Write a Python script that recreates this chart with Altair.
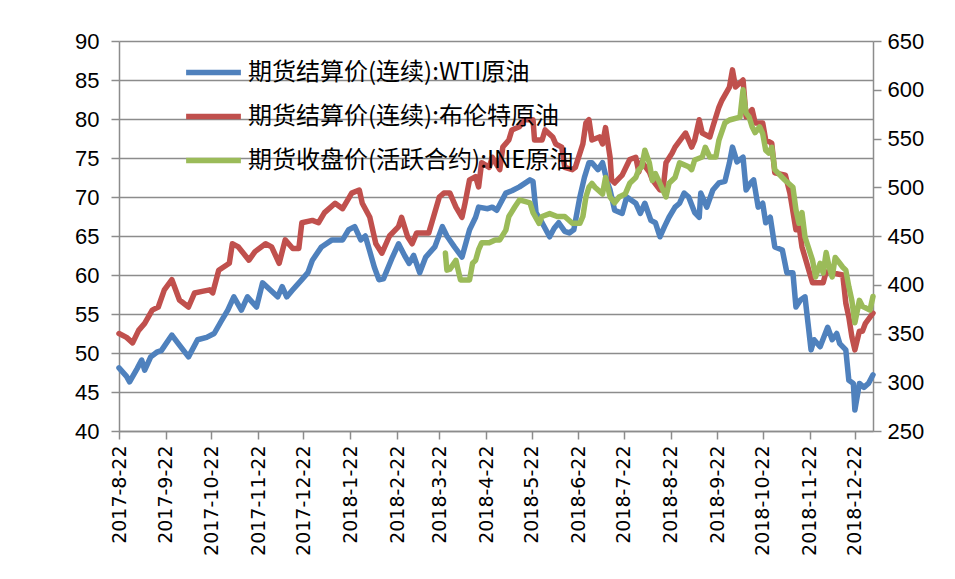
import altair as alt
import pandas as pd

# ---- data ----
WTI_NAME = "期货结算价(连续):WTI原油"
BRENT_NAME = "期货结算价(连续):布伦特原油"
INE_NAME = "期货收盘价(活跃合约):INE原油"

wti_dates = [
    "2017-08-22", "2017-08-27", "2017-08-29", "2017-09-03", "2017-09-06", "2017-09-08",
    "2017-09-12", "2017-09-16", "2017-09-19", "2017-09-26", "2017-10-01", "2017-10-07",
    "2017-10-13", "2017-10-19", "2017-10-24", "2017-10-29", "2017-11-02", "2017-11-06",
    "2017-11-11", "2017-11-15", "2017-11-21", "2017-11-25", "2017-11-30", "2017-12-05",
    "2017-12-08", "2017-12-11", "2017-12-15", "2017-12-21", "2017-12-25", "2017-12-28",
    "2018-01-03", "2018-01-10", "2018-01-17", "2018-01-21", "2018-01-25", "2018-01-29",
    "2018-02-01", "2018-02-04", "2018-02-07", "2018-02-10", "2018-02-13", "2018-02-19",
    "2018-02-23", "2018-02-27", "2018-03-02", "2018-03-05", "2018-03-09", "2018-03-13",
    "2018-03-19", "2018-03-24", "2018-03-27", "2018-04-01", "2018-04-06", "2018-04-11",
    "2018-04-15", "2018-04-17", "2018-04-23", "2018-04-26", "2018-04-29", "2018-05-05",
    "2018-05-09", "2018-05-14", "2018-05-21", "2018-05-23", "2018-05-25", "2018-05-29",
    "2018-06-03", "2018-06-06", "2018-06-09", "2018-06-13", "2018-06-16", "2018-06-19",
    "2018-06-23", "2018-06-26", "2018-06-29", "2018-07-01", "2018-07-05", "2018-07-08",
    "2018-07-11", "2018-07-13", "2018-07-16", "2018-07-21", "2018-07-24", "2018-07-30",
    "2018-08-02", "2018-08-05", "2018-08-09", "2018-08-12", "2018-08-15", "2018-08-18",
    "2018-08-21", "2018-08-25", "2018-08-28", "2018-08-31", "2018-09-03", "2018-09-07",
    "2018-09-10", "2018-09-11", "2018-09-15", "2018-09-19", "2018-09-23", "2018-09-27",
    "2018-09-30", "2018-10-02", "2018-10-05", "2018-10-09", "2018-10-11", "2018-10-14",
    "2018-10-16", "2018-10-19", "2018-10-22", "2018-10-24", "2018-10-27", "2018-10-30",
    "2018-11-04", "2018-11-07", "2018-11-11", "2018-11-13", "2018-11-16", "2018-11-19",
    "2018-11-21", "2018-11-23", "2018-11-25", "2018-11-29", "2018-12-04", "2018-12-07",
    "2018-12-10", "2018-12-12", "2018-12-16", "2018-12-18", "2018-12-21", "2018-12-22",
    "2018-12-25", "2018-12-28", "2018-12-31", "2019-01-03",
]
wti_values = [
    48.1, 47.0, 46.3, 48.0, 49.1, 47.8,
    49.5, 50.1, 50.3, 52.3, 51.0, 49.5,
    51.7, 52.0, 52.5, 54.2, 55.5, 57.2,
    55.5, 57.2, 55.9, 59.0, 58.1, 57.2,
    58.5, 57.2, 58.1, 59.4, 60.3, 61.9,
    63.6, 64.5, 64.5, 65.8, 66.2, 64.5,
    65.0, 63.0, 61.0, 59.4, 59.5, 62.3,
    64.0, 62.5, 61.5, 62.5, 60.3, 62.3,
    63.6, 66.2, 65.0, 63.6, 62.3, 65.8,
    67.4, 68.7, 68.5, 68.7, 68.3, 70.5,
    70.8, 71.3, 72.2, 72.0, 68.0, 66.7,
    64.9, 66.0, 66.7, 65.6, 65.4, 65.8,
    70.0, 72.5, 74.4, 74.4, 73.5, 74.4,
    72.0, 70.9, 68.3, 67.9, 70.0, 69.2,
    67.9, 69.2, 67.0, 66.7, 64.9, 66.2,
    67.4, 68.7, 69.2, 70.5, 70.0, 68.0,
    67.4, 70.5, 68.7, 70.9, 71.8, 72.0,
    74.4, 76.4, 74.5, 75.1, 70.9, 71.8,
    72.2, 68.7, 69.2, 66.7, 67.4, 63.6,
    63.2, 60.3, 60.3, 55.9, 56.8, 57.2,
    53.8, 50.4, 51.7, 50.8, 53.3, 51.7,
    52.5, 51.2, 50.4, 46.5, 46.1, 42.7,
    46.1, 45.6, 46.1, 47.2,
]

brent_dates = [
    "2017-08-22", "2017-08-27", "2017-08-31", "2017-09-04", "2017-09-08", "2017-09-13",
    "2017-09-17", "2017-09-21", "2017-09-26", "2017-10-01", "2017-10-07", "2017-10-11",
    "2017-10-16", "2017-10-21", "2017-10-23", "2017-10-27", "2017-11-03", "2017-11-05",
    "2017-11-09", "2017-11-16", "2017-11-20", "2017-11-27", "2017-12-01", "2017-12-06",
    "2017-12-10", "2017-12-15", "2017-12-19", "2017-12-21", "2017-12-28", "2018-01-01",
    "2018-01-05", "2018-01-12", "2018-01-17", "2018-01-23", "2018-01-28", "2018-01-30",
    "2018-02-04", "2018-02-08", "2018-02-12", "2018-02-17", "2018-02-23", "2018-02-25",
    "2018-03-01", "2018-03-04", "2018-03-07", "2018-03-15", "2018-03-17", "2018-03-22",
    "2018-03-25", "2018-03-29", "2018-04-02", "2018-04-06", "2018-04-08", "2018-04-11",
    "2018-04-15", "2018-04-17", "2018-04-19", "2018-04-24", "2018-04-26", "2018-05-01",
    "2018-05-03", "2018-05-07", "2018-05-09", "2018-05-14", "2018-05-17", "2018-05-23",
    "2018-05-24", "2018-05-29", "2018-05-31", "2018-06-05", "2018-06-07", "2018-06-11",
    "2018-06-13", "2018-06-18", "2018-06-20", "2018-06-25", "2018-06-27", "2018-06-29",
    "2018-07-01", "2018-07-06", "2018-07-08", "2018-07-10", "2018-07-13", "2018-07-14",
    "2018-07-16", "2018-07-21", "2018-07-26", "2018-07-30", "2018-08-01", "2018-08-03",
    "2018-08-08", "2018-08-10", "2018-08-15", "2018-08-17", "2018-08-19", "2018-08-23",
    "2018-08-25", "2018-08-30", "2018-09-01", "2018-09-05", "2018-09-07", "2018-09-10",
    "2018-09-12", "2018-09-17", "2018-09-19", "2018-09-23", "2018-09-25", "2018-09-30",
    "2018-10-02", "2018-10-04", "2018-10-09", "2018-10-11", "2018-10-15", "2018-10-17",
    "2018-10-22", "2018-10-24", "2018-10-28", "2018-10-30", "2018-11-06", "2018-11-09",
    "2018-11-13", "2018-11-15", "2018-11-17", "2018-11-22", "2018-11-24", "2018-12-01",
    "2018-12-03", "2018-12-05", "2018-12-09", "2018-12-14", "2018-12-16", "2018-12-18",
    "2018-12-20", "2018-12-22", "2018-12-25", "2018-12-27", "2018-12-29", "2019-01-03",
]
brent_values = [
    52.5, 52.0, 51.3, 52.9, 53.8, 55.5,
    55.9, 58.1, 59.4, 56.8, 55.9, 57.7,
    57.9, 58.1, 57.7, 60.6, 61.5, 64.0,
    63.6, 61.9, 63.0, 64.0, 63.6, 61.5,
    64.5, 63.4, 63.4, 66.7, 67.0, 66.7,
    68.0, 69.2, 68.5, 70.5, 70.9, 69.2,
    67.4, 64.0, 62.8, 65.0, 66.2, 67.4,
    64.9, 64.0, 65.4, 65.4, 66.7, 70.0,
    70.5, 70.5, 68.7, 67.4, 69.2, 72.2,
    72.6, 71.3, 74.4, 73.8, 75.1, 73.5,
    76.4, 77.3, 78.6, 79.0, 79.9, 79.9,
    77.3, 77.3, 78.6, 77.7, 76.8, 76.4,
    73.8, 73.5, 73.8, 76.8, 79.5, 79.9,
    77.3, 77.7, 76.8, 78.9, 75.1, 72.2,
    71.8, 72.8, 74.8, 75.1, 73.2, 74.5,
    73.2, 72.2, 70.9, 70.9, 74.4, 75.6,
    76.4, 77.7, 78.2, 76.4, 77.3, 79.9,
    78.2, 77.7, 79.0, 81.5, 82.4, 84.1,
    86.3, 84.1, 85.0, 80.3, 81.2, 79.5,
    79.5, 77.3, 76.9, 73.1, 72.8, 70.5,
    65.8, 66.4, 63.6, 60.3, 59.0, 59.0,
    60.4, 60.4, 60.2, 60.0, 56.4, 54.6,
    52.1, 50.4, 52.8, 52.8, 53.8, 55.1,
]

ine_dates = [
    "2018-03-26", "2018-03-27", "2018-03-29", "2018-04-02", "2018-04-03", "2018-04-05",
    "2018-04-11", "2018-04-13", "2018-04-15", "2018-04-17", "2018-04-19", "2018-04-24",
    "2018-04-28", "2018-05-01", "2018-05-05", "2018-05-07", "2018-05-11", "2018-05-14",
    "2018-05-21", "2018-05-23", "2018-05-27", "2018-05-29", "2018-06-03", "2018-06-08",
    "2018-06-11", "2018-06-13", "2018-06-18", "2018-06-23", "2018-06-25", "2018-06-27",
    "2018-06-29", "2018-07-01", "2018-07-03", "2018-07-08", "2018-07-10", "2018-07-13",
    "2018-07-16", "2018-07-19", "2018-07-23", "2018-07-26", "2018-07-30", "2018-08-01",
    "2018-08-03", "2018-08-05", "2018-08-08", "2018-08-10", "2018-08-12", "2018-08-15",
    "2018-08-19", "2018-08-21", "2018-08-25", "2018-08-28", "2018-09-03", "2018-09-05",
    "2018-09-07", "2018-09-12", "2018-09-14", "2018-09-17", "2018-09-21", "2018-09-23",
    "2018-09-27", "2018-09-30", "2018-10-07", "2018-10-09", "2018-10-11", "2018-10-13",
    "2018-10-15", "2018-10-17", "2018-10-20", "2018-10-22", "2018-10-24", "2018-10-26",
    "2018-10-28", "2018-10-30", "2018-11-04", "2018-11-06", "2018-11-11", "2018-11-13",
    "2018-11-15", "2018-11-17", "2018-11-19", "2018-11-24", "2018-11-26", "2018-11-29",
    "2018-12-01", "2018-12-03", "2018-12-05", "2018-12-07", "2018-12-09", "2018-12-12",
    "2018-12-14", "2018-12-16", "2018-12-18", "2018-12-20", "2018-12-22", "2018-12-25",
    "2018-12-27", "2019-01-01", "2019-01-03",
]
ine_values = [
    432.6, 415, 416, 425, 418, 405,
    405, 422, 425, 436, 443, 443,
    446, 446, 456, 470, 480, 487,
    484, 474, 463, 470, 473, 470,
    470, 470, 463, 463, 470, 490,
    500, 504, 500, 493, 510, 490,
    484, 490, 493, 504, 510, 518,
    521, 538, 525, 507, 514, 504,
    490, 504, 510, 525, 521, 518,
    528, 531, 541, 531, 531, 548,
    566, 569, 572, 600, 576, 572,
    562, 556, 562, 555, 538, 535,
    541, 518, 510, 507, 500, 477,
    463, 474, 449, 425, 408, 422,
    412, 433, 418, 408, 428, 422,
    418, 415, 398, 384, 361, 384,
    378, 374, 388,
]

series_names = [WTI_NAME, BRENT_NAME, INE_NAME]
series_colors = ["#4F81BD", "#C0504D", "#9BBB59"]
left_ticks = [40, 45, 50, 55, 60, 65, 70, 75, 80, 85, 90]
right_ticks = [250, 300, 350, 400, 450, 500, 550, 600, 650]
x_tick_months = [(2017, 8), (2017, 9), (2017, 10), (2017, 11), (2017, 12),
                 (2018, 1), (2018, 2), (2018, 3), (2018, 4), (2018, 5), (2018, 6),
                 (2018, 7), (2018, 8), (2018, 9), (2018, 10), (2018, 11), (2018, 12)]

# ---- tables ----
left_df = pd.concat([
    pd.DataFrame({"date": pd.to_datetime(wti_dates), "value": wti_values,
                  "series": WTI_NAME, "k": 0}),
    pd.DataFrame({"date": pd.to_datetime(brent_dates), "value": brent_values,
                  "series": BRENT_NAME, "k": 1}),
], ignore_index=True)
right_df = pd.DataFrame({"date": pd.to_datetime(ine_dates), "value": ine_values,
                         "series": INE_NAME, "k": 2})

GRID = "#8C8C8C"
LW = 5.5
x_values = [alt.DateTime(year=y, month=m, date=22) for y, m in x_tick_months]

x_enc = alt.X(
    "date:T",
    scale=alt.Scale(domain=[alt.DateTime(year=2017, month=8, date=22),
                            alt.DateTime(year=2019, month=1, date=3)]),
    axis=alt.Axis(values=x_values, format="%Y-%-m-%-d", labelAngle=270,
                  title=None, grid=False, tickSize=8, labelPadding=6,
                  labelFont="DejaVu Sans", labelFontSize=19, labelColor="black",
                  domainColor=GRID, tickColor=GRID, domainWidth=1.5, tickWidth=1.5,
                  labelOverlap=False, labelBound=False, labelFlush=False),
)

legend = alt.Legend(
    title=None, orient="none", legendX=64, legendY=1, direction="vertical",
    symbolType="stroke", symbolSize=3000, symbolStrokeWidth=LW,
    labelFont="Noto Sans CJK SC", labelFontSize=24, labelColor="black",
    labelLimit=0, rowPadding=1, padding=0, labelOffset=4,
)
color_enc = alt.Color("series:N",
                      scale=alt.Scale(domain=series_names, range=series_colors),
                      legend=legend)

y_axis_common = dict(title=None, tickSize=8, labelPadding=12,
                     labelFont="Liberation Sans", labelFontSize=22, labelColor="black",
                     domainColor=GRID, tickColor=GRID, domainWidth=1.5, tickWidth=1.5)

left = alt.Chart(left_df).mark_line(strokeWidth=LW, strokeJoin="round", strokeCap="round").encode(
    x=x_enc,
    y=alt.Y("value:Q", scale=alt.Scale(domain=[40, 90], nice=False, zero=False),
            axis=alt.Axis(values=left_ticks, orient="left", grid=True,
                          gridColor=GRID, gridWidth=1.5, **y_axis_common)),
    color=color_enc,
    order="k:Q",
)

right = alt.Chart(right_df).mark_line(strokeWidth=LW, strokeJoin="round", strokeCap="round").encode(
    x=x_enc,
    y=alt.Y("value:Q", scale=alt.Scale(domain=[250, 650], nice=False, zero=False),
            axis=alt.Axis(values=right_ticks, orient="right", grid=False,
                          **{**y_axis_common, "labelPadding": 6})),
    color=color_enc,
)

chart = alt.layer(left, right).resolve_scale(y="independent").properties(
    width=754, height=390,
    padding={"left": 66, "top": 22, "right": 5, "bottom": 5},
    background="white",
).configure_view(stroke=None)

chart.save("out.html", embed_options={"renderer": "svg", "actions": False})
